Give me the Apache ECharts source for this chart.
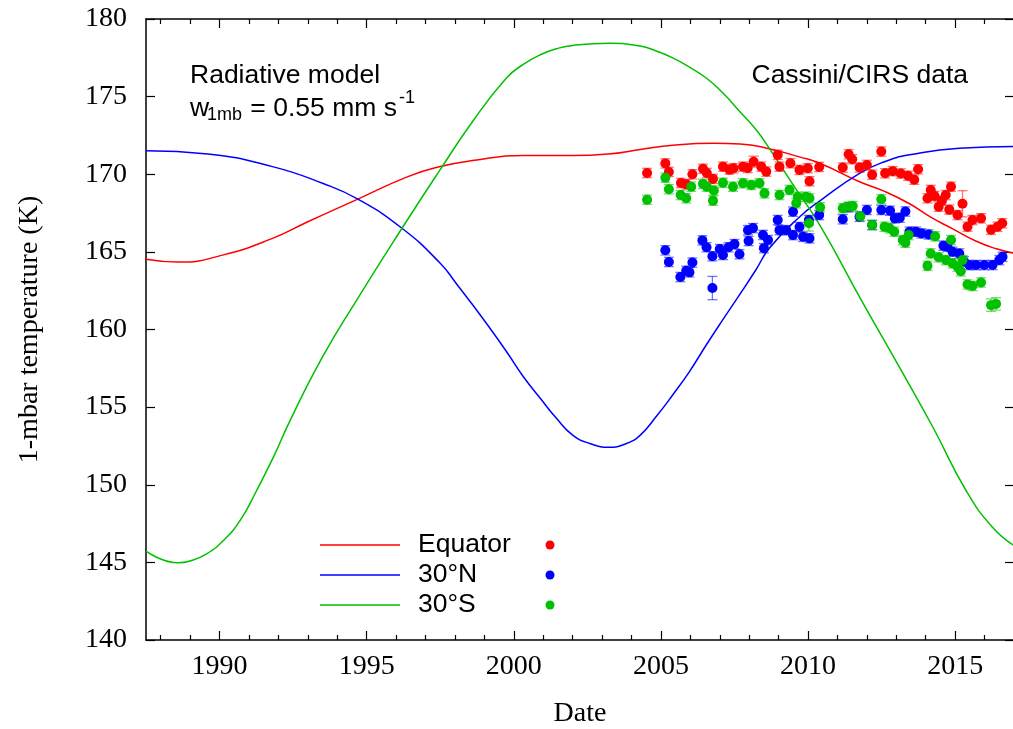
<!DOCTYPE html>
<html>
<head>
<meta charset="utf-8">
<script src="https://cdn.jsdelivr.net/npm/echarts@6/dist/echarts.min.js"></script>
<style>
html,body{margin:0;padding:0;background:#fff;}
#chart{width:1013px;height:729px;}
</style>
</head>
<body>
<div id="chart"></div>
<script>
// ---- Data ----
var xMajorTicks = [1990, 1995, 2000, 2005, 2010, 2015];
var xMinorTicks = [1988,1989,1991,1992,1993,1994,1996,1997,1998,1999,2001,2002,2003,2004,2006,2007,2008,2009,2011,2012,2013,2014,2016];

// Radiative model curves [year, K]
var equatorModel = [
  [1987.5,164.52],[1988.6,164.34],[1990.1,164.79],[1991.8,165.87],[1993.0,166.94],
  [1994.7,168.4],[1996.4,169.85],[1997.5,170.5],[1998.6,170.88],[2000.3,171.2],
  [2002.0,171.2],[2003.2,171.3],[2004.3,171.59],[2005.4,171.87],[2006.8,172.0],
  [2007.7,171.95],[2008.6,171.68],[2009.7,171.12],[2010.4,170.71],[2011.75,169.52],
  [2012.6,168.9],[2013.45,168.1],[2014.2,167.2],[2014.9,166.5],[2015.7,165.7],
  [2016.4,165.2],[2017.0,164.92]
];
var north30Model = [
  [1987.5,171.52],[1989.6,171.31],[1991.8,170.49],[1993.5,169.42],[1994.7,168.4],
  [1996.2,166.52],[1997.5,164.27],[1998.05,162.95],[1998.6,161.59],[1999.19,160.08],
  [1999.75,158.58],[2000.32,156.97],[2000.9,155.57],[2001.45,154.28],[2002.0,153.2],
  [2002.58,152.66],[2003.23,152.41],[2003.83,152.66],[2004.3,153.2],[2004.84,154.39],
  [2005.4,155.78],[2005.97,157.29],[2006.54,159.0],[2007.1,160.62],[2007.67,162.23],
  [2008.23,163.85],[2008.69,165.25],[2009.71,167.25],[2010.44,168.34],[2011.75,170.06],
  [2012.6,170.81],[2013.45,171.25],[2015.14,171.68],[2017.0,171.78]
];
var south30Model = [
  [1987.5,145.72],[1988.6,144.97],[1989.0,145.09],[1989.56,145.55],[1990.13,146.41],
  [1990.7,147.7],[1991.26,149.63],[1991.83,151.78],[1992.4,154.15],[1993.5,158.23],
  [1994.66,161.89],[1996.2,166.52],[1997.5,170.3],[1998.6,173.4],[1999.75,176.2],
  [2000.32,177.07],[2000.9,177.7],[2001.45,178.08],[2002.0,178.3],[2003.26,178.43],
  [2004.3,178.26],[2004.84,177.94],[2005.4,177.5],[2005.97,176.9],[2006.54,176.2],
  [2007.1,175.25],[2007.67,174.06],[2008.23,172.88],[2008.69,171.65],[2009.5,169.3],
  [2010.44,166.6],[2011.81,161.89],[2013.1,157.59],[2014.24,153.72],[2015.37,149.63],
  [2016.27,147.26],[2017.0,146.08]
];

// Cassini/CIRS data [year, K, error]
var equatorData = [
  [2004.53,170.08,0.3],[2005.15,170.7,0.3],[2005.27,170.15,0.3],[2005.68,169.44,0.3],
  [2005.86,169.35,0.3],[2006.07,170.0,0.3],[2006.43,170.35,0.3],[2006.56,170.08,0.3],
  [2006.77,169.7,0.3],[2007.11,170.49,0.3],[2007.33,170.3,0.3],[2007.47,170.39,0.3],
  [2007.79,170.49,0.3],[2007.95,170.4,0.3],[2008.15,170.81,0.35],[2008.41,170.49,0.3],
  [2008.58,170.17,0.3],[2008.97,171.25,0.3],[2009.03,170.49,0.3],[2009.4,170.71,0.3],
  [2009.71,170.28,0.3],[2009.99,170.39,0.3],[2010.05,169.55,0.3],[2010.38,170.47,0.3],
  [2011.18,170.43,0.3],[2011.38,171.29,0.3],[2011.5,170.97,0.3],[2011.75,170.43,0.3],
  [2012.0,170.6,0.3],[2012.18,169.97,0.3],[2012.49,171.46,0.3],[2012.62,170.06,0.3],
  [2012.88,170.2,0.3],[2013.15,170.05,0.3],[2013.4,169.9,0.3],[2013.61,169.65,0.3],
  [2013.74,170.32,0.3],[2014.06,168.45,0.3],[2014.17,168.99,0.3],[2014.3,168.6,0.3],
  [2014.44,167.91,0.3],[2014.55,168.3,0.3],[2014.68,168.66,0.3],[2014.86,169.2,0.3],
  [2014.8,167.72,0.3],[2015.08,167.37,0.3],[2015.25,168.1,0.84],[2015.42,166.62,0.3],
  [2015.59,167.05,0.3],[2015.88,167.16,0.3],[2016.22,166.42,0.3],[2016.44,166.62,0.3],
  [2016.6,166.84,0.3]
];
var north30Data = [
  [2005.15,165.1,0.3],[2005.27,164.35,0.3],[2005.66,163.38,0.3],[2005.86,163.78,0.3],
  [2005.97,163.68,0.3],[2006.07,164.31,0.3],[2006.41,165.74,0.3],[2006.55,165.3,0.3],
  [2006.75,164.72,0.3],[2006.75,162.67,0.75],[2007.0,165.18,0.3],[2007.11,164.8,0.3],
  [2007.3,165.3,0.3],[2007.5,165.5,0.3],[2007.67,164.85,0.3],[2007.96,166.4,0.3],
  [2008.13,166.53,0.3],[2007.98,165.7,0.3],[2008.47,166.09,0.3],[2008.64,165.76,0.3],
  [2008.5,165.24,0.3],[2008.97,167.05,0.3],[2009.03,166.4,0.3],[2009.26,166.4,0.3],
  [2009.49,166.08,0.3],[2009.49,167.59,0.3],[2009.71,166.6,0.3],[2009.83,165.97,0.3],
  [2010.05,165.87,0.3],[2010.03,167.05,0.3],[2010.38,167.37,0.3],[2011.18,167.1,0.3],
  [2011.38,167.87,0.3],[2011.75,167.26,0.3],[2012.0,167.7,0.3],[2012.18,166.73,0.3],
  [2012.49,167.7,0.3],[2012.79,167.65,0.3],[2012.95,167.16,0.3],[2013.12,167.2,0.3],
  [2013.31,167.6,0.3],[2013.45,166.3,0.3],[2013.67,166.3,0.3],[2013.85,166.19,0.3],
  [2014.1,166.12,0.3],[2014.6,165.4,0.3],[2014.74,165.33,0.3],[2014.91,165.01,0.3],
  [2015.14,164.9,0.3],[2015.3,164.4,0.3],[2015.48,164.15,0.3],[2015.71,164.15,0.3],
  [2015.99,164.15,0.3],[2016.27,164.15,0.3],[2016.5,164.47,0.3],[2016.61,164.68,0.3]
];
var south30Data = [
  [2004.53,168.36,0.3],[2005.15,169.78,0.3],[2005.27,169.03,0.3],[2005.67,168.66,0.3],
  [2005.86,168.45,0.3],[2006.03,169.2,0.3],[2006.43,169.38,0.3],[2006.56,169.2,0.3],
  [2006.77,168.3,0.3],[2006.8,168.95,0.3],[2007.11,169.45,0.3],[2007.45,169.2,0.3],
  [2007.79,169.42,0.3],[2008.07,169.31,0.3],[2008.35,169.42,0.3],[2008.52,168.77,0.3],
  [2009.03,168.66,0.3],[2009.37,168.99,0.3],[2009.6,168.13,0.3],[2009.65,168.55,0.3],
  [2009.93,168.55,0.3],[2010.05,168.45,0.3],[2010.03,166.84,0.5],[2010.41,167.87,0.3],
  [2011.18,167.81,0.3],[2011.38,167.91,0.3],[2011.52,167.95,0.3],[2011.78,167.3,0.3],
  [2012.18,166.73,0.3],[2012.49,168.39,0.3],[2012.6,166.62,0.3],[2012.77,166.52,0.3],
  [2012.93,166.3,0.3],[2013.22,165.76,0.3],[2013.31,165.59,0.3],[2013.42,166.08,0.3],
  [2014.06,164.1,0.3],[2014.17,164.9,0.3],[2014.32,166.0,0.3],[2014.44,164.65,0.3],
  [2014.69,164.47,0.3],[2014.86,165.76,0.3],[2014.91,164.26,0.3],[2015.08,164.04,0.3],
  [2015.19,163.75,0.3],[2015.25,164.47,0.3],[2015.42,162.9,0.3],[2015.59,162.8,0.3],
  [2015.88,163.03,0.3],[2016.22,161.57,0.4],[2016.39,161.65,0.4]
];

var seriesNames = ['Equator', '30°N', '30°S'];
var RED = '#ff0000', BLUE = '#0000ff', GREEN = '#00c000';

// ---- Chart ----
var chart = echarts.init(document.getElementById('chart'), null, {renderer: 'canvas'});
var serif = 'Liberation Serif';
var X_MIN = 1987.5, X_MAX = 2017.0;

function xAxisDef(pos, values, len, labels) {
  return {
    type: 'value', position: pos, min: X_MIN, max: X_MAX,
    axisLine: {show: labels, onZero: false, lineStyle: {color: '#000', width: 1.5}},
    axisTick: {show: true, inside: true, length: len, customValues: values, lineStyle: {color: '#000', width: 1.2}},
    axisLabel: {show: labels, customValues: values, margin: 13, fontFamily: serif, fontSize: 28, color: '#000',
      formatter: function (v) { return String(Math.round(v)); }},
    splitLine: {show: false}
  };
}
function yAxisDef(pos, labels) {
  return {
    type: 'value', position: pos, min: 140, max: 180, interval: 5,
    axisLine: {show: true, onZero: false, lineStyle: {color: '#000', width: 1.5}},
    axisTick: {show: true, inside: true, length: 9, lineStyle: {color: '#000', width: 1.2}},
    axisLabel: {show: labels, margin: 19, fontFamily: serif, fontSize: 28, color: '#000'},
    splitLine: {show: false}
  };
}

var xAxes = [
  xAxisDef('bottom', xMajorTicks, 9, true),
  xAxisDef('bottom', xMinorTicks, 5, false),
  xAxisDef('top', xMajorTicks, 9, false),
  xAxisDef('top', xMinorTicks, 5, false)
];
xAxes[2].axisLine.show = true;
xAxes[0].name = 'Date';
xAxes[0].nameLocation = 'middle';
xAxes[0].nameGap = 60;
xAxes[0].nameTextStyle = {fontFamily: serif, fontSize: 28, color: '#000'};

var yAxes = [yAxisDef('left', true), yAxisDef('right', false)];
yAxes[0].name = '1-mbar temperature (K)';
yAxes[0].nameLocation = 'middle';
yAxes[0].nameGap = 102;
yAxes[0].nameRotate = 90;
yAxes[0].nameTextStyle = {fontFamily: serif, fontSize: 28, color: '#000'};

function errorSeries(data, color) {
  return {
    type: 'custom', xAxisIndex: 0, yAxisIndex: 0, data: data, z: 2, silent: true,
    renderItem: function (params, api) {
      var x = api.value(0), v = api.value(1), e = api.value(2);
      var top = api.coord([x, v + e]);
      var bot = api.coord([x, v - e]);
      var cap = 5;
      var style = {stroke: color, lineWidth: 1.3, opacity: 0.55};
      return {
        type: 'group',
        children: [
          {type: 'line', shape: {x1: top[0], y1: top[1], x2: bot[0], y2: bot[1]}, style: style},
          {type: 'line', shape: {x1: top[0] - cap, y1: top[1], x2: top[0] + cap, y2: top[1]}, style: style},
          {type: 'line', shape: {x1: bot[0] - cap, y1: bot[1], x2: bot[0] + cap, y2: bot[1]}, style: style}
        ]
      };
    }
  };
}
function scatterSeries(name, data, color) {
  return {
    name: name, type: 'scatter', xAxisIndex: 0, yAxisIndex: 0, z: 3,
    data: data.map(function (d) { return [d[0], d[1]]; }),
    symbol: 'circle', symbolSize: 10, itemStyle: {color: color, opacity: 1}
  };
}
function lineSeries(name, data, color) {
  return {
    name: name, type: 'line', xAxisIndex: 0, yAxisIndex: 0, z: 1,
    data: data, smooth: 0.5, showSymbol: false, symbol: 'none',
    lineStyle: {color: color, width: 1.5}
  };
}

var legendY = [545, 575, 605];
var legendColors = [RED, BLUE, GREEN];
var FONT = '26.5px "Liberation Sans"';
var SMALL = '18px "Liberation Sans"';
var graphics = [
  {type: 'text', left: 190, top: 62, style: {text: 'Radiative model', font: FONT, fill: '#000'}},
  {type: 'text', left: 190, top: 95, style: {text: 'w', font: FONT, fill: '#000'}},
  {type: 'text', left: 207, top: 106, style: {text: '1mb', font: SMALL, fill: '#000'}},
  {type: 'text', left: 243, top: 95, style: {text: ' = 0.55 mm s', font: FONT, fill: '#000'}},
  {type: 'text', left: 399, top: 89, style: {text: '-1', font: SMALL, fill: '#000'}},
  {type: 'text', right: 1013 - 968, top: 62, style: {text: 'Cassini/CIRS data', font: FONT, fill: '#000', textAlign: 'right'}}
];
for (var i = 0; i < 3; i++) {
  graphics.push({type: 'line', shape: {x1: 320, y1: legendY[i], x2: 400, y2: legendY[i]}, style: {stroke: legendColors[i], lineWidth: 1.5}});
  graphics.push({type: 'text', x: 418, y: legendY[i], style: {text: seriesNames[i], font: FONT, fill: '#000', verticalAlign: 'middle'}});
  graphics.push({type: 'circle', shape: {cx: 550, cy: legendY[i], r: 4.5}, style: {fill: legendColors[i]}});
}

var option = {
  backgroundColor: '#ffffff',
  animation: false,
  grid: {left: 146, top: 19, width: 868, height: 621, containLabel: false, outerBoundsMode: 'none'},
  xAxis: xAxes,
  yAxis: yAxes,
  graphic: graphics,
  series: [
    lineSeries(seriesNames[0], equatorModel, RED),
    lineSeries(seriesNames[1], north30Model, BLUE),
    lineSeries(seriesNames[2], south30Model, GREEN),
    errorSeries(equatorData, RED),
    errorSeries(north30Data, BLUE),
    errorSeries(south30Data, GREEN),
    scatterSeries(seriesNames[0], equatorData, RED),
    scatterSeries(seriesNames[1], north30Data, BLUE),
    scatterSeries(seriesNames[2], south30Data, GREEN)
  ]
};
chart.setOption(option);
</script>
</body>
</html>
